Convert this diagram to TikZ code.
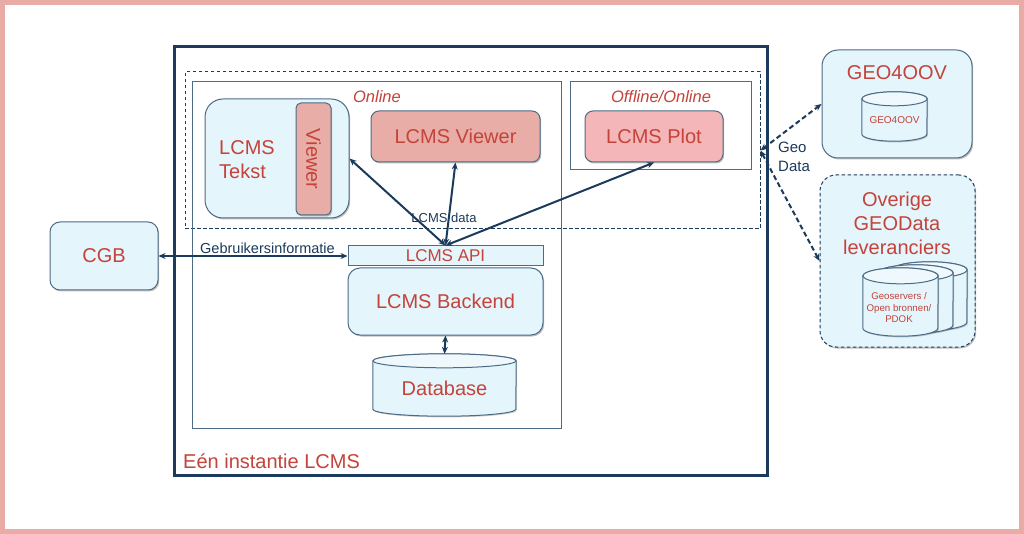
\documentclass[tikz,border=0pt]{standalone}
\usepackage{fontspec}
\setmainfont{Liberation Sans}
\usetikzlibrary{arrows.meta,shadows}

\definecolor{navy}{HTML}{1B3A5C}
\definecolor{boxline}{HTML}{4D6B85}
\definecolor{paleblue}{HTML}{E4F5FC}
\definecolor{salmon}{HTML}{E8ADA6}
\definecolor{plotpink}{HTML}{F4B6B8}
\definecolor{redtxt}{HTML}{C4433A}
\definecolor{framepink}{HTML}{E8ABA6}

% cylinder round an (empty) node: name, x radius, y radius
\newcommand{\drawcyl}[3]{%
  \path[cylbody] ([yshift=-#3]#1.north west) -- ([yshift=#3]#1.south west)
    arc[start angle=180, end angle=360, x radius=#2, y radius=#3]
    -- ([yshift=-#3]#1.north east)
    arc[start angle=0, end angle=180, x radius=#2, y radius=#3] -- cycle;
  \draw[cylline] ([yshift=-#3]#1.north) ellipse[x radius=#2, y radius=#3];
}

\begin{document}
\begin{tikzpicture}[x=1pt, y=-1pt,
        every node/.style={inner sep=0pt, text=redtxt, font=\fontsize{20}{24}\selectfont},
        frame/.style={draw=boxline, line width=1pt},
        blockbox/.style={draw=boxline, line width=1pt, fill=paleblue, rounded corners=#1,
            drop shadow={shadow xshift=1.2pt, shadow yshift=-1.5pt, fill=black, opacity=.25}},
        blockbox/.default=10pt,
        cylbody/.style={draw=boxline, line width=1pt, fill=paleblue,
            drop shadow={shadow xshift=1pt, shadow yshift=-1.2pt, fill=black, opacity=.2}},
        cylline/.style={draw=boxline, line width=1pt, fill=paleblue!60!white},
        navytext/.style={text=navy},
        biarrow/.style={{Stealth[length=7pt,width=6pt]}-{Stealth[length=7pt,width=6pt]}, line width=2pt, draw=navy},
        geoarrow/.style={biarrow, dashed, dash pattern=on 5pt off 3pt}
    ]
    \useasboundingbox (0,0) rectangle (1024,534);
    \fill[white] (0,0) rectangle (1024,534);
    \draw[framepink, line width=5pt] (2.5,2.5) rectangle (1021.5,531.5);

    % containers
    \node[draw=navy, line width=3pt, minimum width=593, minimum height=428] (inst) at (470.5,261) {};
    \node[anchor=west] (instlabel) at (183,461) {Eén instantie LCMS};
    \node[draw=navy, line width=1pt, dashed, dash pattern=on 3.5pt off 2.5pt,
        minimum width=575, minimum height=157] (zone) at (472.5,150.5) {};
    \node[frame, minimum width=369, minimum height=346] (online) at (376.5,255) {};
    \node[frame, minimum width=181, minimum height=88] (offline) at (660.5,126) {};
    \node[font=\fontsize{16.5}{20}\selectfont\itshape] (onlinelabel) at (377,97) {Online};
    \node[font=\fontsize{16.5}{20}\selectfont\itshape] (offlinelabel) at (661,97) {Offline/Online};

    % front ends
    \node[blockbox=18pt, minimum width=144, minimum height=119] (tekst) at (277,158.5) {};
    \node[align=left] (tekstlabel) at (247,160) {LCMS\\Tekst};
    \node[blockbox=5pt, fill=salmon, minimum width=35, minimum height=112] (viewer) at (313.5,159) {};
    \node[rotate=-90] (viewerlabel) at (viewer) {Viewer};
    \node[blockbox=8pt, fill=salmon, minimum width=169, minimum height=51] (lcmsviewer) at (455.5,136.5) {LCMS Viewer};
    \node[blockbox=8pt, fill=plotpink, minimum width=138, minimum height=51] (plot) at (654,136.5) {LCMS Plot};

    % backend
    \node[draw=boxline, line width=1pt, fill=paleblue, minimum width=195, minimum height=20,
        font=\fontsize{17}{20}\selectfont] (api) at (445.5,256) {LCMS API};
    \node[blockbox=12pt, minimum width=195, minimum height=67] (backend) at (445.5,301.5) {LCMS Backend};
    \node[minimum width=143, minimum height=62] (db) at (444.5,385) {};
    \drawcyl{db}{71.5pt}{7pt}
    \node (dblabel) at ([yshift=-3pt]db.center) {Database};

    \node[blockbox=10pt, minimum width=108, minimum height=68] (cgb) at (104,256) {CGB};

    % external sources
    \node[blockbox=16pt, minimum width=150, minimum height=108] (geo) at (897,104) {};
    \node (geolabel) at (897,73) {GEO4OOV};
    \node[minimum width=65, minimum height=49] (geocyl) at (894.5,116.5) {};
    \drawcyl{geocyl}{32.5pt}{7pt}
    \node[font=\fontsize{10}{12}\selectfont] (geocyllabel) at (894.5,120) {GEO4OOV};

    \node[blockbox=16pt, draw=navy, dashed, dash pattern=on 3.5pt off 2.5pt, minimum width=155, minimum height=172] (overige) at (897.5,261) {};
    \node[align=center] (overigelabel) at (897,223) {Overige\\GEOData\\leveranciers};
    \node[minimum width=75, minimum height=68] (srcback) at (929.5,296) {};
    \drawcyl{srcback}{37.5pt}{8pt}
    \node[minimum width=75, minimum height=68] (srcmid) at (915.5,299) {};
    \drawcyl{srcmid}{37.5pt}{8pt}
    \node[minimum width=75, minimum height=68] (src) at (900.5,302) {};
    \drawcyl{src}{37.5pt}{8pt}
    \node[align=center, font=\fontsize{9.7}{11.5}\selectfont] (srclabel) at (899,308) {Geoservers /\\Open bronnen/\\PDOK};

    % connectors
    \draw[biarrow] (api.north) -- (tekst.east);
    \draw[biarrow] (api.north) -- (lcmsviewer.south);
    \draw[biarrow] (api.north) -- (plot.south);
    \draw[biarrow] (cgb.east) -- (api.west);
    \draw[biarrow] (backend.south) -- (db.north);
    \draw[geoarrow] (zone.east) -- (geo.west);
    \draw[geoarrow] (zone.east) -- (overige.west);

    \node[navytext, font=\fontsize{13}{16}\selectfont] (datalabel) at (444,218) {LCMS data};
    \node[navytext, font=\fontsize{14.5}{17}\selectfont] (userlabel) at (267.5,248) {Gebruikersinformatie};
    \node[navytext, align=left, anchor=west, font=\fontsize{15}{19}\selectfont] (geodatalabel) at (778,157) {Geo\\Data};
\end{tikzpicture}
\end{document}
